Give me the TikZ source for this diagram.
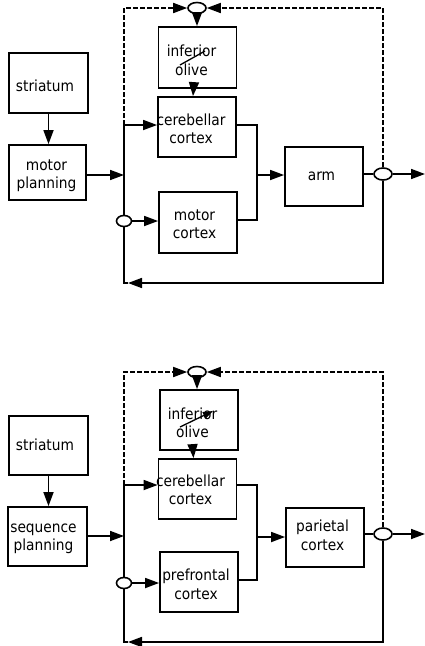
\documentclass[tikz,border=0pt]{standalone}
\usepackage{fontspec}
\setmainfont{DejaVu Sans Condensed}
\usetikzlibrary{arrows.meta,shapes.geometric}
% #1 = horizontal shift of the text (pt), #2 = downward shift (pt), #3 = text
\newcommand\boxtxt[3]{\hspace*{\dimexpr 2\dimexpr #1pt\relax\relax}\raisebox{-#2pt}[\height][\depth]{\begin{tabular}{@{}c@{}}#3\end{tabular}}}
\tikzset{
  box/.style={draw, line width=1.8pt, inner sep=0pt, align=center, minimum width=78pt, minimum height=60pt, font=\fontsize{15.3}{18.5}\selectfont},
  junc/.style={draw, ellipse, line width=1.6pt, inner sep=0pt, minimum width=18pt, minimum height=11pt, fill=white},
  conn/.style={line width=1.7pt},
  arr/.style={line width=1.7pt, -{Triangle[length=14pt,width=10pt]}},
  dsh/.style={line width=1.3pt, dash pattern=on 5pt off 2pt},
}
\begin{document}
\begin{tikzpicture}[x=1pt,y=-1pt]
\useasboundingbox (0,0) rectangle (425,646);
% ---------- top diagram ----------
\node[box, minimum width=79pt] (str1) at (48.5,83) {\boxtxt{-3.5}{5}{striatum}};
\node[box, minimum width=77pt, minimum height=55pt] (mp1) at (47.5,172.5) {\boxtxt{-1}{3.5}{motor\\planning}};
\node[box, minimum height=61pt] (io1) at (197.5,57.5) {\boxtxt{-6}{5}{inferior\\olive}};
\node[box] (cc1) at (197,127) {\boxtxt{-6}{4}{cerebellar\\cortex}};
\node[box, minimum height=61pt] (mc1) at (198,222.5) {\boxtxt{-3.5}{3.5}{motor\\cortex}};
\node[box, minimum height=59pt] (arm1) at (324,176.5) {\boxtxt{-2.5}{0}{arm}};
\node[junc, minimum width=15pt] (lc1) at (124,221) {};
\node[junc] (tc1) at (197,8) {};
\node[junc, minimum height=12pt] (rc1) at (383,174) {};
\coordinate (b1top) at (124,8);
\coordinate (b1cc) at (124,125);
\coordinate (b1bot) at (124,283);
\coordinate (b1ar) at (128,283);
\coordinate (r1top) at (383,8);
\coordinate (r1bot) at (383,283);
\coordinate (m1a) at (257,125);
\coordinate (m1b) at (257,220);
\coordinate (m1c) at (257,175);
\coordinate (out1) at (425,174);
\draw[arr] (str1.south) -- (str1.south |- mp1.north);
\draw[arr] (mp1.east |- 0,175) -- (124,175);
\draw[conn] (b1cc) -- (lc1.north);
\draw[arr] (b1cc) -- (b1cc -| cc1.west);
\draw[arr] (lc1.east) -- (lc1.east -| mc1.west);
\draw[conn] (m1a -| cc1.east) -- (m1a) -- (m1b) -- (m1b -| mc1.east);
\draw[arr] (m1c) -- (m1c -| arm1.west);
\draw[conn] (rc1.west -| arm1.east) -- (rc1.west);
\draw[arr] (rc1.east) -- (out1);
\draw[arr] (rc1.south) -- (r1bot) -- (b1ar);
\draw[conn] (b1ar) -- (b1bot) -- (lc1.south);
\draw[dsh] (b1cc) -- (b1top) -- (175,8);
\draw[arr] (175,8) -- (tc1.west);
\draw[dsh] (rc1.north) -- (r1top) -- (220,8);
\draw[arr] (220,8) -- (tc1.east);
\draw[arr] (tc1.south) -- (tc1.south |- io1.north);
\draw[arr] ([xshift=-4pt]io1.south) -- ([xshift=-4pt]cc1.north);
\draw[line width=1.3pt] (180,65) -- (205,51);
% ---------- bottom diagram ----------
\node[box, minimum width=79pt, minimum height=59pt] (str2) at (48.5,445.5) {\boxtxt{-3.5}{1.5}{striatum}};
\node[box, minimum width=79pt, minimum height=59pt] (sp2) at (47.5,536.5) {\boxtxt{-4}{1.5}{sequence\\planning}};
\node[box] (io2) at (199,420) {\boxtxt{-6.5}{5}{inferior\\olive}};
\node[box] (cc2) at (197.5,489) {\boxtxt{-7}{3}{cerebellar\\cortex}};
\node[box] (pf2) at (199,582) {\boxtxt{-3}{4.5}{prefrontal\\cortex}};
\node[box, minimum height=59pt] (par2) at (325,537.5) {\boxtxt{-2.5}{0}{parietal\\cortex}};
\node[junc, minimum width=15pt] (lc2) at (124,583) {};
\node[junc] (tc2) at (197,372) {};
\node[junc, minimum height=12pt] (rc2) at (383,534) {};
\coordinate (b2top) at (124,372);
\coordinate (b2cc) at (124,485);
\coordinate (b2bot) at (124,642);
\coordinate (b2ar) at (128,642);
\coordinate (r2top) at (383,372);
\coordinate (r2bot) at (383,642);
\coordinate (m2a) at (257,485);
\coordinate (m2b) at (257,580);
\coordinate (m2c) at (257,537);
\coordinate (out2) at (425,534);
\draw[arr] (str2.south) -- (str2.south |- sp2.north);
\draw[arr] (sp2.east |- 0,536) -- (124,536);
\draw[conn] (b2cc) -- (lc2.north);
\draw[arr] (b2cc) -- (b2cc -| cc2.west);
\draw[arr] (lc2.east) -- (lc2.east -| pf2.west);
\draw[conn] (m2a -| cc2.east) -- (m2a) -- (m2b) -- (m2b -| pf2.east);
\draw[arr] (m2c) -- (m2c -| par2.west);
\draw[conn] (rc2.west -| par2.east) -- (rc2.west);
\draw[arr] (rc2.east) -- (out2);
\draw[arr] (rc2.south) -- (r2bot) -- (b2ar);
\draw[conn] (b2ar) -- (b2bot) -- (lc2.south);
\draw[dsh] (b2cc) -- (b2top) -- (175,372);
\draw[arr] (175,372) -- (tc2.west);
\draw[dsh] (rc2.north) -- (r2top) -- (220,372);
\draw[arr] (220,372) -- (tc2.east);
\draw[arr] (tc2.south) -- (tc2.south |- io2.north);
\draw[arr] ([xshift=-6pt]io2.south) -- ([xshift=-4pt]cc2.north);
\draw[line width=1.3pt, -{Triangle[length=10pt,width=7pt]}] (180,427) -- (213,411);
\end{tikzpicture}
\end{document}
